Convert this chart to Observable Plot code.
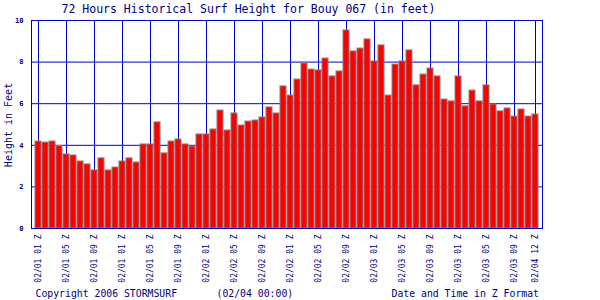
<!DOCTYPE html>
<html>
<head>
<meta charset="utf-8">
<script src="https://cdn.jsdelivr.net/npm/d3@7"></script>
<script src="https://cdn.jsdelivr.net/npm/@observablehq/plot@0.6"></script>
<style>
  html, body { margin: 0; padding: 0; background: white; }
  #chart svg { display: block; }
</style>
</head>
<body>
<div id="chart"></div>
<script>
// Surf height (feet) for each of the 72 hourly bars
const heights = [
  4.18, 4.13, 4.18, 3.96, 3.56, 3.51, 3.22, 3.08, 2.79, 3.37,
  2.79, 2.93, 3.22, 3.37, 3.17, 4.04, 4.04, 5.10, 3.61, 4.18,
  4.28, 4.04, 3.94, 4.52, 4.52, 4.76, 5.67, 4.71, 5.53, 4.95,
  5.14, 5.19, 5.34, 5.82, 5.53, 6.83, 6.39, 7.16, 7.93, 7.64,
  7.60, 8.17, 7.31, 7.55, 9.52, 8.51, 8.65, 9.09, 8.03, 8.80,
  6.39, 7.88, 8.03, 8.56, 6.88, 7.40, 7.69, 7.31, 6.20, 6.11,
  7.31, 5.87, 6.63, 6.11, 6.88, 5.96, 5.63, 5.77, 5.38, 5.72,
  5.38, 5.48
];
// Positions (bar index) of the labelled ticks and their labels
const tickIdx = [0, 4, 8, 12, 16, 20, 24, 28, 32, 36, 40, 44, 48, 52, 56, 60, 64, 68, 71];
const tickLabels = [
  "02/01 01 Z", "02/01 05 Z", "02/01 09 Z", "02/01 01 Z", "02/01 05 Z", "02/01 09 Z",
  "02/02 01 Z", "02/02 05 Z", "02/02 09 Z", "02/02 01 Z", "02/02 05 Z", "02/02 09 Z",
  "02/03 01 Z", "02/03 05 Z", "02/03 09 Z", "02/03 01 Z", "02/03 05 Z", "02/03 09 Z",
  "02/04 12 Z"
];
const yTicks = [0, 2, 4, 6, 8, 10];

const data = heights.map((h, i) => ({i, h}));
const GRID = "#0000cc";
const TEXT = "#000080";

const svg = Plot.plot({
  width: 600,
  height: 300,
  marginLeft: 31,
  marginRight: 58,
  marginTop: 20,
  marginBottom: 72,
  style: {fontFamily: "DejaVu Sans Mono", color: TEXT, background: "white", overflow: "visible"},
  x: {type: "linear", domain: [-1, 72]},
  y: {domain: [0, 10]},
  marks: [
    Plot.gridY(yTicks, {stroke: GRID, strokeOpacity: 1}),
    Plot.gridX(tickIdx, {stroke: GRID, strokeOpacity: 1}),
    Plot.rectY(data, {
      x1: d => d.i - 3 / 7,
      x2: d => d.i + 3 / 7,
      y1: 0,
      y2: "h",
      fill: "#ff0000",
      stroke: "#808080",
      strokeWidth: 1
    }),
    Plot.frame({stroke: GRID, strokeWidth: 1}),
    Plot.axisY(yTicks, {tickSize: 0, tickPadding: 8, fontSize: 7, fontWeight: "bold", fill: TEXT, label: null}),
    Plot.axisX(tickIdx, {
      tickSize: 0,
      tickPadding: 6,
      tickRotate: -90,
      tickFormat: d => tickLabels[tickIdx.indexOf(d)],
      fontSize: 8,
      fill: TEXT,
      label: null
    })
  ]
});

const s = d3.select(svg);
function addText(x, y, anchor, size, str, transform) {
  const t = s.append("text")
    .attr("text-anchor", anchor)
    .attr("font-family", "DejaVu Sans Mono")
    .attr("font-size", size)
    .attr("fill", TEXT)
    .text(str);
  if (transform) t.attr("transform", transform);
  else t.attr("x", x).attr("y", y);
  return t;
}
addText(248.5, 12.5, "middle", 11.5, "72 Hours Historical Surf Height for Bouy 067 (in feet)");
addText(0, 0, "middle", 10, "Height in Feet", "translate(11.5,125) rotate(-90)");
addText(35.5, 297, "start", 9.8, "Copyright 2006 STORMSURF");
addText(216.5, 297, "start", 9.8, "(02/04 00:00)");
addText(539, 297, "end", 9.8, "Date and Time in Z Format");

document.getElementById("chart").appendChild(svg);
</script>
</body>
</html>
